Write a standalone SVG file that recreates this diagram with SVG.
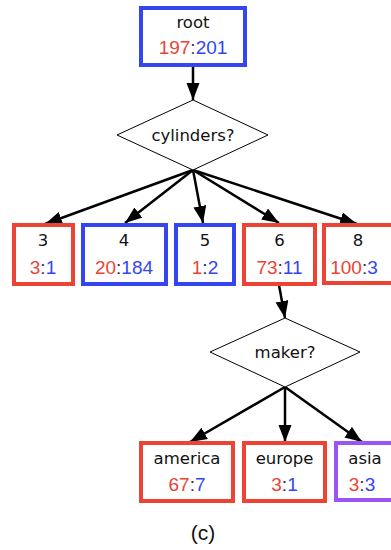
<svg xmlns="http://www.w3.org/2000/svg" width="391" height="550" viewBox="0 0 391 550">
  <style>
    .box { fill: #ffffff; stroke-width: 4; }
    .red { stroke: #ec4334; }
    .blue { stroke: #3346f0; }
    .purple { stroke: #9a55f5; }
    .dia { fill: #ffffff; stroke: #000000; stroke-width: 1; }
    .lbl { font-family: "DejaVu Sans", sans-serif; font-size: 16.5px; fill: #111111; text-anchor: middle; }
    .num { font-family: "Liberation Sans", Arial, sans-serif; font-size: 19px; text-anchor: middle; }
    .r { fill: #ec4334; }
    .b { fill: #3346f0; }
    .k { fill: #333333; }
    .edge { stroke: #000000; stroke-width: 2.5; fill: none; marker-end: url(#arrow); }
  </style>
  <defs>
    <marker id="arrow" markerUnits="userSpaceOnUse" markerWidth="18" markerHeight="14" refX="17" refY="6.5" orient="auto">
      <path d="M0,0 L17,6.5 L0,13 z" fill="#000000"/>
    </marker>
  </defs>

  <rect width="391" height="550" fill="#ffffff"/>

  <!-- connectors -->
  <g id="edges">
    <line class="edge" x1="193" y1="66" x2="193" y2="100"/>
    <line class="edge" x1="193" y1="170" x2="45" y2="224"/>
    <line class="edge" x1="193" y1="170" x2="125" y2="223"/>
    <line class="edge" x1="193" y1="170" x2="203" y2="223"/>
    <line class="edge" x1="193" y1="170" x2="279" y2="223"/>
    <line class="edge" x1="193" y1="170" x2="357" y2="224"/>
    <line class="edge" x1="279" y1="285" x2="285" y2="318"/>
    <line class="edge" x1="285" y1="387" x2="190" y2="442"/>
    <line class="edge" x1="285" y1="387" x2="285" y2="442"/>
    <line class="edge" x1="285" y1="387" x2="362" y2="442"/>
  </g>

  <g id="root">
    <rect class="box blue" x="141" y="8" width="104" height="57"/>
    <text class="lbl" x="193" y="28">root</text>
    <text class="num" x="193" y="54"><tspan class="r">197</tspan><tspan class="k">:</tspan><tspan class="b">201</tspan></text>
  </g>

  <g id="cylinders">
    <polygon class="dia" points="193,100 268,135 193,170 117,135"/>
    <text class="lbl" x="193" y="141">cylinders?</text>
  </g>

  <g id="cyl3">
    <rect class="box red" x="14" y="225" width="59" height="59"/>
    <text class="lbl" x="43" y="246">3</text>
    <text class="num" x="43" y="274"><tspan class="r">3</tspan><tspan class="k">:</tspan><tspan class="b">1</tspan></text>
  </g>

  <g id="cyl4">
    <rect class="box blue" x="83" y="225" width="83" height="59"/>
    <text class="lbl" x="124" y="246">4</text>
    <text class="num" x="124" y="274"><tspan class="r">20</tspan><tspan class="k">:</tspan><tspan class="b">184</tspan></text>
  </g>

  <g id="cyl5">
    <rect class="box blue" x="176" y="225" width="58" height="59"/>
    <text class="lbl" x="205" y="246">5</text>
    <text class="num" x="205" y="274"><tspan class="r">1</tspan><tspan class="k">:</tspan><tspan class="b">2</tspan></text>
  </g>

  <g id="cyl6">
    <rect class="box red" x="244" y="225" width="71" height="59"/>
    <text class="lbl" x="279.5" y="246">6</text>
    <text class="num" x="279.5" y="274"><tspan class="r">73</tspan><tspan class="k">:</tspan><tspan class="b">11</tspan></text>
  </g>

  <g id="cyl8">
    <rect class="box red" x="324" y="225" width="72" height="58"/>
    <text class="lbl" x="358" y="246">8</text>
    <text class="num" x="354" y="274"><tspan class="r">100</tspan><tspan class="k">:</tspan><tspan class="b">3</tspan></text>
  </g>

  <g id="maker">
    <polygon class="dia" points="285,318 360,352 285,387 210,352"/>
    <text class="lbl" x="285" y="358">maker?</text>
  </g>

  <g id="america">
    <rect class="box red" x="141" y="443" width="92" height="58"/>
    <text class="lbl" x="187" y="464">america</text>
    <text class="num" x="187" y="491"><tspan class="r">67</tspan><tspan class="k">:</tspan><tspan class="b">7</tspan></text>
  </g>

  <g id="europe">
    <rect class="box red" x="244" y="443" width="81" height="58"/>
    <text class="lbl" x="284.5" y="464">europe</text>
    <text class="num" x="284.5" y="491"><tspan class="r">3</tspan><tspan class="k">:</tspan><tspan class="b">1</tspan></text>
  </g>

  <g id="asia">
    <rect class="box purple" x="336" y="443" width="60" height="57"/>
    <text class="lbl" x="365" y="464">asia</text>
    <text class="num" x="362" y="491"><tspan class="r">3</tspan><tspan class="k">:</tspan><tspan class="b">3</tspan></text>
  </g>

  <text x="203" y="540" font-family="Liberation Sans, Arial, sans-serif" font-size="21" fill="#111111" text-anchor="middle">(c)</text>
</svg>
